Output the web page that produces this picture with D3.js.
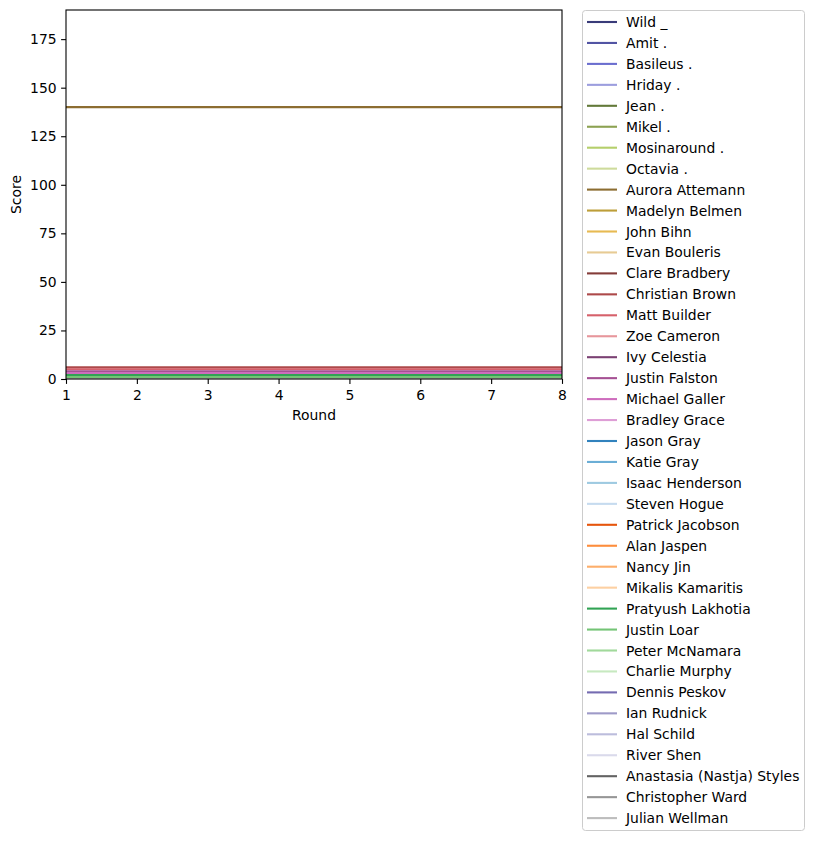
<!DOCTYPE html>
<html>
<head>
<meta charset="utf-8">
<script src="https://cdn.jsdelivr.net/npm/d3@7"></script>
<style>
  body { margin: 0; background: #fff; }
  svg { font-family: "DejaVu Sans", sans-serif; }
</style>
</head>
<body>
<svg id="chart" width="815" height="841"></svg>
<script>
// Data
const rounds = [1, 2, 3, 4, 5, 6, 7, 8];
const players = [
    "Wild _", "Amit .", "Basileus .", "Hriday .", "Jean .", "Mikel .", "Mosinaround .", "Octavia .",
    "Aurora Attemann", "Madelyn Belmen", "John Bihn", "Evan Bouleris", "Clare Bradbery",
    "Christian Brown", "Matt Builder", "Zoe Cameron", "Ivy Celestia", "Justin Falston",
    "Michael Galler", "Bradley Grace", "Jason Gray", "Katie Gray", "Isaac Henderson",
    "Steven Hogue", "Patrick Jacobson", "Alan Jaspen", "Nancy Jin", "Mikalis Kamaritis",
    "Pratyush Lakhotia", "Justin Loar", "Peter McNamara", "Charlie Murphy", "Dennis Peskov",
    "Ian Rudnick", "Hal Schild", "River Shen", "Anastasia (Nastja) Styles",
    "Christopher Ward", "Julian Wellman"
];
// constant score per player across all rounds
const scores = [
    0, 0, 0, 0, 0, 0, 0, 0,
    140, 0, 0, 0, 0,
    6, 5, 0, 0, 4,
    3, 0, 0, 0, 0,
    0, 0, 0, 0, 0,
    2, 1, 0, 0, 0,
    0, 0, 0, 0,
    0, 0
];
const colors = [
    "#393b79", "#5254a3", "#6b6ecf", "#9c9ede", "#637939", "#8ca252", "#b5cf6b", "#cedb9c",
    "#8c6d31", "#bd9e39", "#e7ba52", "#e7cb94", "#843c39", "#ad494a", "#d6616b", "#e7969c",
    "#7b4173", "#a55194", "#ce6dbd", "#de9ed6",
    "#3182bd", "#6baed6", "#9ecae1", "#c6dbef", "#e6550d", "#fd8d3c", "#fdae6b", "#fdd0a2",
    "#31a354", "#74c476", "#a1d99b", "#c7e9c0", "#756bb1", "#9e9ac8", "#bcbddc", "#dadaeb",
    "#636363", "#969696", "#bdbdbd"
];
const yTicks = [0, 25, 50, 75, 100, 125, 150, 175];

const series = players.map((name, i) => ({
    name: name,
    color: colors[i],
    values: rounds.map(r => ({ round: r, score: scores[i] }))
}));

const fontSize = 13.9;
const svg = d3.select('#chart');
const plot = { l: 66, t: 10, r: 562, b: 379 };

const xScale = d3.scaleLinear().domain([1, 8]).range([plot.l, plot.r]);
const yScale = d3.scaleLinear().domain([0, 190]).range([plot.b, plot.t]);

const line = d3.line()
    .x(d => xScale(d.round))
    .y(d => yScale(d.score));

svg.append('clipPath').attr('id', 'clip')
    .append('rect')
    .attr('x', plot.l).attr('y', plot.t)
    .attr('width', plot.r - plot.l).attr('height', plot.b - plot.t);

svg.append('g')
    .attr('clip-path', 'url(#clip)')
    .selectAll('path')
    .data(series)
    .enter()
    .append('path')
    .attr('d', d => line(d.values))
    .attr('fill', 'none')
    .attr('stroke', d => d.color)
    .attr('stroke-width', 2.1);

// Frame
svg.append('rect')
    .attr('x', plot.l).attr('y', plot.t)
    .attr('width', plot.r - plot.l).attr('height', plot.b - plot.t)
    .attr('fill', 'none').attr('stroke', '#000').attr('stroke-width', 1.1);

// Axes
const xAxis = svg.append('g')
    .attr('transform', 'translate(0,' + plot.b + ')')
    .call(d3.axisBottom(xScale).tickValues(rounds).tickSize(4.9).tickPadding(6).tickFormat(d3.format('d')));
const yAxis = svg.append('g')
    .attr('transform', 'translate(' + plot.l + ',0)')
    .call(d3.axisLeft(yScale).tickValues(yTicks).tickSize(4.9).tickPadding(4.5));
[xAxis, yAxis].forEach(a => {
    a.select('.domain').remove();
    a.selectAll('text').attr('font-size', fontSize).attr('fill', '#000')
        .attr('font-family', '"DejaVu Sans", sans-serif');
    a.selectAll('line').attr('stroke', '#000').attr('stroke-width', 1.1);
});

svg.append('text')
    .attr('x', (plot.l + plot.r) / 2).attr('y', 420)
    .attr('text-anchor', 'middle').attr('font-size', fontSize)
    .text('Round');
svg.append('text')
    .attr('transform', 'rotate(-90)')
    .attr('x', -(plot.t + plot.b) / 2).attr('y', 21)
    .attr('text-anchor', 'middle').attr('font-size', fontSize)
    .text('Score');

// Legend
const legend = svg.append('g');
legend.append('rect')
    .attr('x', 582.5).attr('y', 10.5)
    .attr('width', 222).attr('height', 820)
    .attr('rx', 3)
    .attr('fill', '#fff').attr('stroke', '#ccc').attr('stroke-width', 1);

const rowH = 20.95;
const items = legend.selectAll('.legend-item')
    .data(series)
    .enter()
    .append('g')
    .attr('class', 'legend-item')
    .attr('transform', (d, i) => 'translate(0,' + (22 + i * rowH) + ')');
items.append('line')
    .attr('x1', 587).attr('x2', 617)
    .attr('stroke', d => d.color).attr('stroke-width', 2.1);
items.append('text')
    .attr('x', 626).attr('y', 5)
    .attr('font-size', fontSize)
    .text(d => d.name);
</script>
</body>
</html>
